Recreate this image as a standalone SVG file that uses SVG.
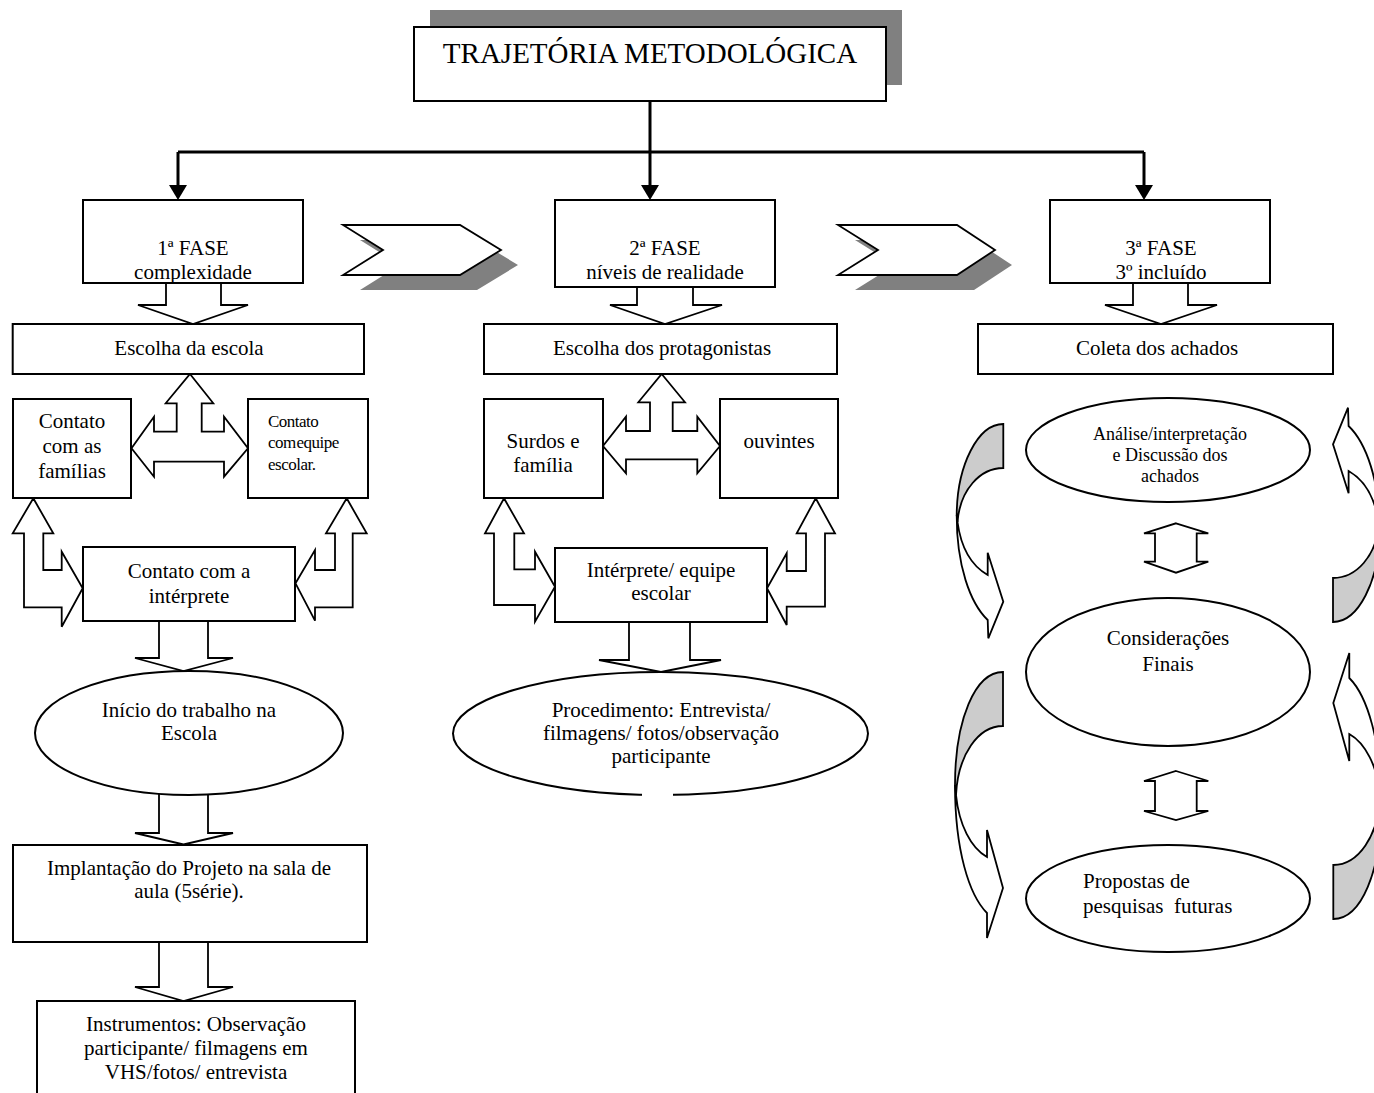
<svg xmlns="http://www.w3.org/2000/svg" xmlns:xlink="http://www.w3.org/1999/xlink" width="1374" height="1093" viewBox="0 0 1374 1093">
<style>
.box{fill:#fff;stroke:#000;stroke-width:2}
.arr{fill:#fff;stroke:#000;stroke-width:1.8;stroke-linejoin:miter}
.back{fill:#cccccc;stroke:#000;stroke-width:1.8}
.shadow{fill:#808080;stroke:none}
.line{fill:none;stroke:#000;stroke-width:3}
.head{fill:#000;stroke:none}
.t{font-family:"Liberation Serif","Times New Roman",serif;font-size:21px;fill:#000;text-anchor:middle}
.s{font-size:18px}
.c{font-size:17px;text-anchor:start;letter-spacing:-0.5px;word-spacing:-3px}
.l{text-anchor:start}
</style>
<defs>
<clipPath id="clip1"><rect x="83" y="200" width="220" height="83"/></clipPath>
<clipPath id="clip3"><rect x="1050" y="200" width="220" height="83"/></clipPath>
<g id="curveA">
<path class="back" d="M1003.3,424 C978,424 957,465 956.7,515 L957.5,522 C960,490 980,468 1003.3,468 Z"/>
<path class="arr" d="M956.7,515 C956.5,565 970,603 987.7,620 L988.3,638.3 L1003.3,601.7 L987.7,552.7 L987.7,575 C972,566 961,548 957.5,522 Z"/>
</g>
<g id="curveB">
<path class="back" d="M1003,672 C975,672 955,720 955,785 L956,795 C958,755 978,726 1003,726 Z"/>
<path class="arr" d="M955,785 C955,850 969,895 987,913 L987,938 L1003,888 L987,830 L987,857 C971,848 959,825 956,795 Z"/>
</g>
</defs>
<rect width="1374" height="1093" fill="#fff"/>

<g id="connectors">
<polyline class="line" points="650,101 650,186"/>
<polyline class="line" points="178,152 1144,152"/>
<polyline class="line" points="178,152 178,186"/>
<polyline class="line" points="1144,152 1144,186"/>
<polygon class="head" points="641,185 659,185 650,200"/>
<polygon class="head" points="169,185 187,185 178,200"/>
<polygon class="head" points="1135,185 1153,185 1144,200"/>
<!-- chevrons -->
<polygon class="shadow" points="360,240 477,240 518,265 477,290 360,290 400,265"/>
<polygon class="arr" points="343,225 460,225 501,250 460,275 343,275 383,250"/>
<polygon class="shadow" points="855,240 974,240 1012,265 974,290 855,290 895,265"/>
<polygon class="arr" points="838,225 957,225 995,250 957,275 838,275 878,250"/>
<!-- phase down arrows -->
<polyline class="arr" points="166,283 166,305 138,305 193,324 248,305 221,305 221,283"/>
<polyline class="arr" points="637,287 637,305 610,305 665,324 722,305 693,305 693,287"/>
<polyline class="arr" points="1133,283 1133,305 1105,305 1161,324 1217,305 1188,305 1188,283"/>
<!-- left cluster -->
<polygon class="arr" points="190,374 213.3,403.3 201.7,403.3 201.7,431.7 224,431.7 224,416.7 248,448.3 224,476.7 224,461.7 154,461.7 154,476.7 131.5,448.3 154,416.7 154,431.7 176.7,431.7 176.7,403.3 165.7,403.3"/>
<polygon class="arr" points="33.3,498.3 53.3,533.3 43.3,533.3 43.3,570 61.7,570 61.7,551.7 82.7,588.3 61.7,626.7 61.7,607.3 24,607.3 24,533.3 12.7,533.3"/>
<polygon class="arr" points="346.7,498.3 366.7,533.3 352.7,533.3 352.7,607.3 315,607.3 315,620.7 295.5,583.3 315,550 315,570 335,570 335,533.3 326,533.3"/>
<polyline class="arr" points="159,621 159,658 135,658 183.5,671 233,658 208,658 208,621"/>
<polyline class="arr" points="159,794 159,833 135,833 183.5,844.5 233,833 208,833 208,794"/>
<polyline class="arr" points="159,942 159,987 135,987 183.5,1001 233,987 208,987 208,942"/>
<!-- middle cluster -->
<polygon class="arr" points="661.7,374 685,402.3 672.7,402.3 672.7,431 697.3,431 697.3,416.7 720,446 697.3,473.3 697.3,459.3 626,459.3 626,473.3 603,446 626,416.7 626,431 650,431 650,402.3 638.3,402.3"/>
<polygon class="arr" points="504,498.3 524,533.3 514.3,533.3 514.3,569.3 535,569.3 535,551.7 555,586.7 535,621.7 535,605 494,605 494,533.3 485,533.3"/>
<polygon class="arr" points="815.7,498.3 835,533.3 825,533.3 825,606.7 786.7,606.7 786.7,625 767,588.3 786.7,553.3 786.7,571 806,571 806,533.3 796.7,533.3"/>
<polyline class="arr" points="629,622 629,660 599,660 661,672 721,660 690,660 690,622"/>
<!-- right cluster -->
<polygon class="arr" points="1176,523.3 1208.3,533.3 1196.7,533.3 1196.7,561.7 1208.3,561.7 1176,572.7 1144,561.7 1155,561.7 1155,533.3 1144,533.3"/>
<polygon class="arr" points="1176,771 1208.3,781 1196.7,781 1196.7,811 1208.3,811 1176,820 1144,811 1155,811 1155,781 1144,781"/>
<use xlink:href="#curveA"/>
<use xlink:href="#curveB"/>
<use xlink:href="#curveA" transform="matrix(-1,0,0,-1,2336.3,1046)"/>
<use xlink:href="#curveB" transform="matrix(-1,0,0,-1,2336.3,1591)"/>
</g>

<g id="title">
<rect class="shadow" x="430" y="10" width="472" height="75"/>
<rect class="box" x="414" y="27" width="472" height="74"/>
<text class="t" x="650" y="63" style="font-size:29px">TRAJETÓRIA METODOLÓGICA</text>
</g>

<g id="fase1">
<rect class="box" x="83" y="200" width="220" height="83"/>
<g clip-path="url(#clip1)">
<text class="t" x="193" y="255">1ª FASE</text>
<text class="t" x="193" y="279">complexidade</text>
</g>
<rect x="83" y="200" width="220" height="83" fill="none" stroke="#000" stroke-width="2"/>
</g>
<g id="fase2">
<rect class="box" x="555" y="200" width="220" height="87"/>
<text class="t" x="665" y="255">2ª FASE</text>
<text class="t" x="665" y="279">níveis de realidade</text>
</g>
<g id="fase3">
<rect class="box" x="1050" y="200" width="220" height="83"/>
<g clip-path="url(#clip3)">
<text class="t" x="1161" y="255">3ª FASE</text>
<text class="t" x="1161" y="279">3º incluído</text>
</g>
<rect x="1050" y="200" width="220" height="83" fill="none" stroke="#000" stroke-width="2"/>
</g>

<g id="escolha-escola">
<rect class="box" x="12.7" y="324" width="351.3" height="50"/>
<text class="t" x="189" y="355">Escolha da escola</text>
</g>
<g id="escolha-protagonistas">
<rect class="box" x="484" y="324" width="353" height="50"/>
<text class="t" x="662" y="355">Escolha dos protagonistas</text>
</g>
<g id="coleta">
<rect class="box" x="978" y="324" width="355" height="50"/>
<text class="t" x="1157" y="355">Coleta dos achados</text>
</g>

<g id="contato-familias">
<rect class="box" x="13" y="399" width="118" height="99"/>
<text class="t" x="72" y="428">Contato</text>
<text class="t" x="72" y="453">com as</text>
<text class="t" x="72" y="478">famílias</text>
</g>
<g id="contato-equipe">
<rect class="box" x="248" y="399" width="120" height="99"/>
<text class="t c" x="268" y="427">Contato</text>
<text class="t c" x="268" y="448">com equipe</text>
<text class="t c" x="268" y="470">escolar.</text>
</g>
<g id="contato-interprete">
<rect class="box" x="83" y="547" width="212" height="74"/>
<text class="t" x="189" y="578">Contato com a</text>
<text class="t" x="189" y="603">intérprete</text>
</g>
<g id="inicio">
<ellipse class="box" cx="189" cy="733" rx="154" ry="62"/>
<text class="t" x="189" y="717">Início do trabalho na</text>
<text class="t" x="189" y="740">Escola</text>
</g>
<g id="implantacao">
<rect class="box" x="13" y="845" width="354" height="97"/>
<text class="t" x="189" y="875">Implantação do Projeto na sala de</text>
<text class="t" x="189" y="898">aula (5série).</text>
</g>
<g id="instrumentos">
<rect class="box" x="37" y="1001" width="318" height="120"/>
<text class="t" x="196" y="1031">Instrumentos: Observação</text>
<text class="t" x="196" y="1055">participante/ filmagens em</text>
<text class="t" x="196" y="1079">VHS/fotos/ entrevista</text>
</g>

<g id="surdos">
<rect class="box" x="484" y="399" width="119" height="99"/>
<text class="t" x="543" y="448">Surdos e</text>
<text class="t" x="543" y="472">família</text>
</g>
<g id="ouvintes">
<rect class="box" x="720" y="399" width="118" height="99"/>
<text class="t" x="779" y="448">ouvintes</text>
</g>
<g id="interprete-equipe">
<rect class="box" x="555" y="548" width="212" height="74"/>
<text class="t" x="661" y="577">Intérprete/ equipe</text>
<text class="t" x="661" y="600">escolar</text>
</g>
<g id="procedimento">
<ellipse class="box" cx="660.5" cy="733.5" rx="207.5" ry="61.5"/>
<rect x="642" y="791" width="31" height="7" fill="#fff"/>
<text class="t" x="661" y="717">Procedimento: Entrevista/</text>
<text class="t" x="661" y="740">filmagens/ fotos/observação</text>
<text class="t" x="661" y="763">participante</text>
</g>

<g id="analise">
<ellipse class="box" cx="1168" cy="450" rx="142" ry="52"/>
<text class="t s" x="1170" y="440">Análise/interpretação</text>
<text class="t s" x="1170" y="461">e Discussão dos</text>
<text class="t s" x="1170" y="482">achados</text>
</g>
<g id="consideracoes">
<ellipse class="box" cx="1168" cy="672" rx="142" ry="74"/>
<text class="t" x="1168" y="645">Considerações</text>
<text class="t" x="1168" y="671">Finais</text>
</g>
<g id="propostas">
<ellipse class="box" cx="1168" cy="898.5" rx="142" ry="53.5"/>
<text class="t l" x="1083" y="888">Propostas de</text>
<text class="t l" x="1083" y="913" xml:space="preserve">pesquisas  futuras</text>
</g>
</svg>
